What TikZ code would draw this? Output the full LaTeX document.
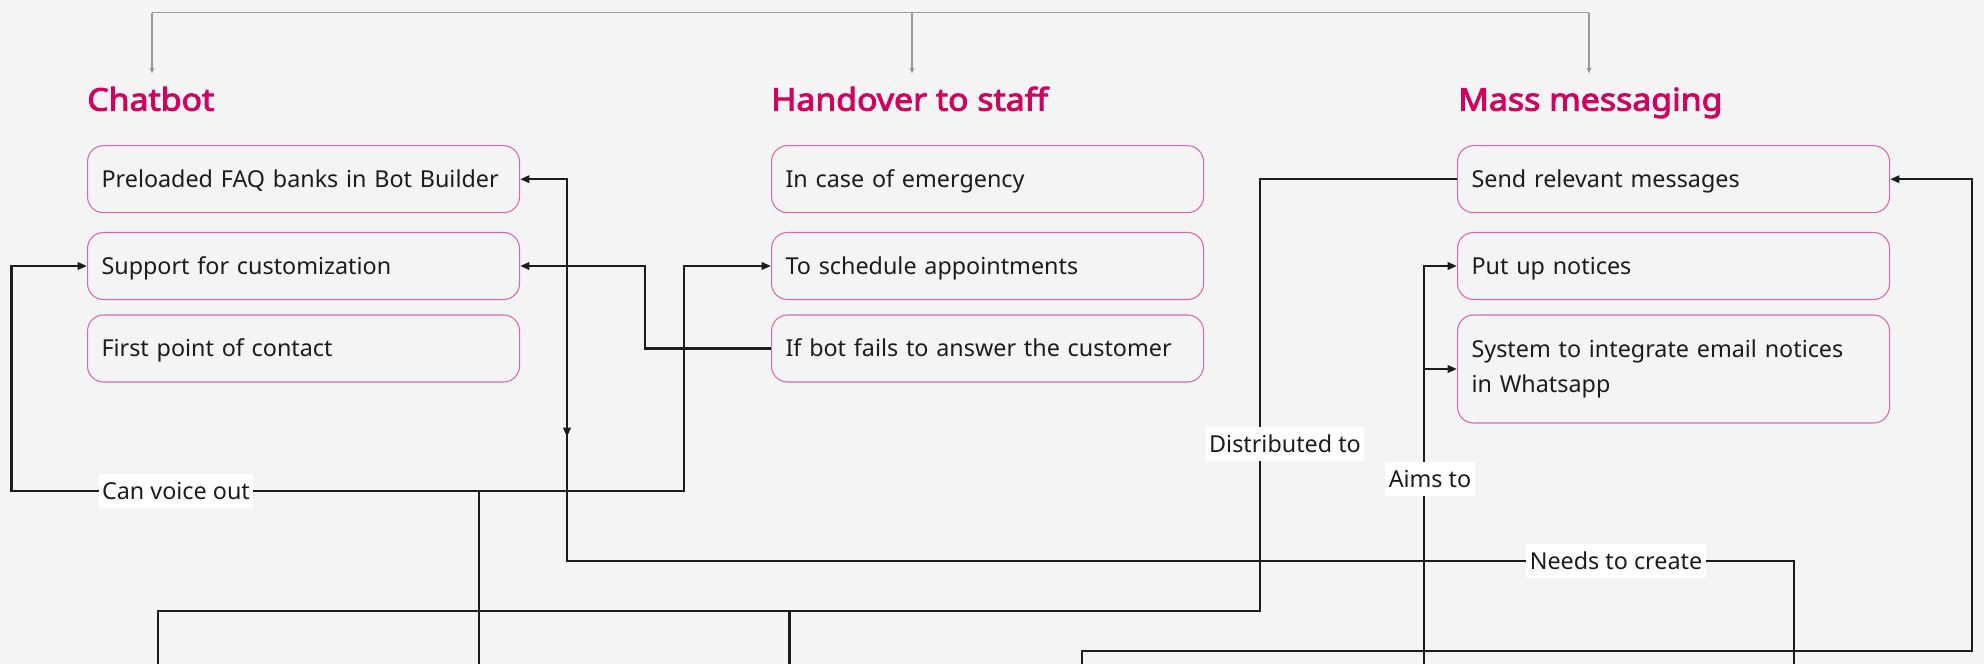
\documentclass[tikz,border=0pt]{standalone}
\usepackage{fontspec}
\setmainfont{Noto Sans}
\newfontfamily\headfont{Noto Sans}[FakeBold=3,FakeStretch=1.08]
\usetikzlibrary{arrows.meta}
\definecolor{bg}{HTML}{F4F4F4}
\definecolor{brand}{HTML}{D0035F}
\definecolor{boxline}{HTML}{D46BA8}
\definecolor{ink}{HTML}{1C1C1C}
\definecolor{guide}{HTML}{9A9A9A}
\begin{document}
\begin{tikzpicture}[x=0.75pt,y=-0.75pt,
  title/.style={anchor=base west, font=\headfont\fontsize{23.5}{28}\selectfont, text=brand,
    inner xsep=0pt, inner ysep=9.5pt, text height=18pt},
  item/.style={draw=boxline, line width=0.8pt, rounded corners=12pt, anchor=west,
    text width=303pt, inner xsep=10.5pt, minimum height=50.25pt, align=left,
    font=\fontsize{17.5}{26.25}\selectfont, text=ink},
  oneline/.style={item, text height=12.4pt, text depth=0.4pt},
  tag/.style={fill=white, inner xsep=2.5pt, inner ysep=0pt, minimum height=25.5pt,
    font=\fontsize{17.5}{21}\selectfont, text=ink},
  link/.style={draw=ink, line width=1.8pt},
  arr/.style={link, -{Triangle[length=7pt,width=5.5pt]}},
  guideline/.style={draw=guide, line width=1pt},
  guidearr/.style={guideline, -{Triangle[length=4.5pt,width=3.5pt]}}]

% canvas
\fill[bg] (0,0) rectangle (1984,664);
\useasboundingbox (0,0) rectangle (1984,664);

% column titles
\node[title] (chat) at (87,110.7) {Chatbot};
\node[title] (hand) at (771,110.7) {Handover to staff};
\node[title] (mass) at (1458,110.7) {Mass messaging};

% Chatbot items
\node[oneline] (faq)    at (87,179.2) {Preloaded FAQ banks in Bot Builder};
\node[oneline] (custom) at (87,266)   {Support for customization};
\node[oneline] (first)  at (87,348.5) {First point of contact};

% Handover items
\node[oneline] (emerg) at (771,179.2) {In case of emergency};
\node[oneline] (sched) at (771,266)   {To schedule appointments};
\node[oneline] (fails) at (771,348.5) {If bot fails to answer the customer};

% Mass messaging items
\node[oneline] (send)    at (1457,179.2) {Send relevant messages};
\node[oneline] (notices) at (1457,266)   {Put up notices};
\node[item, minimum height=81pt] (integ) at (1457,369)
  {System to integrate email notices\\in Whatsapp};

% grey header lines
\coordinate (g1) at (152,12.7);
\coordinate (g2) at (912,12.7);
\coordinate (g3) at (1589,12.7);
\draw[guideline] (g1) -- (g3);
\draw[guidearr] (g1) -- (g1 |- chat.north);
\draw[guidearr] (g2) -- (g2 |- hand.north);
\draw[guidearr] (g3) -- (g3 |- mass.north);

% "Needs to create"
\coordinate (a0) at (1794,664);
\coordinate (a1) at (567,561);
\draw[arr] (a0) |- (a1) |- (faq.east);
\coordinate (m0) at (567,420);
\coordinate (m1) at (567,437);
\draw[arr] (m0) -- (m1);

% "Can voice out"
\coordinate (b0) at (479,664);
\coordinate (bj) at (479,491);
\coordinate (bl) at (11.5,491);
\coordinate (br) at (684,491);
\draw[arr] (b0) -- (bj) -- (bl) |- (custom.west);
\draw[arr] (bj) -- (br) |- (sched.west);

% fallback from the bot to customization
\coordinate (c1) at (645,300);
\draw[arr] (fails.west) -| (c1) |- (custom.east);

% "Distributed to"
\coordinate (d1) at (1260,611);
\coordinate (d2) at (158,664);
\coordinate (dj) at (789.5,611);
\coordinate (d3) at (789.5,664);
\draw[link] (send.west) -| (d1) -| (d2);
\draw[link] (dj) -- (d3);

% "Aims to"
\coordinate (e0) at (1424,664);
\coordinate (ej) at (1424,369);
\draw[arr] (e0) |- (notices.west);
\draw[arr] (ej) -- (integ.west);

% loop back into "Send relevant messages"
\coordinate (f0) at (1082,664);
\coordinate (f1) at (1972,651);
\draw[arr] (f0) |- (f1) |- (send.east);

% connector labels
\node[tag] (lvoice) at (176,491)  {Can voice out};
\node[tag] (ldist)  at (1285,444) {Distributed to};
\node[tag] (laims)  at (1430,479) {Aims to};
\node[tag] (lneeds) at (1616,561) {Needs to create};
\end{tikzpicture}
\end{document}
